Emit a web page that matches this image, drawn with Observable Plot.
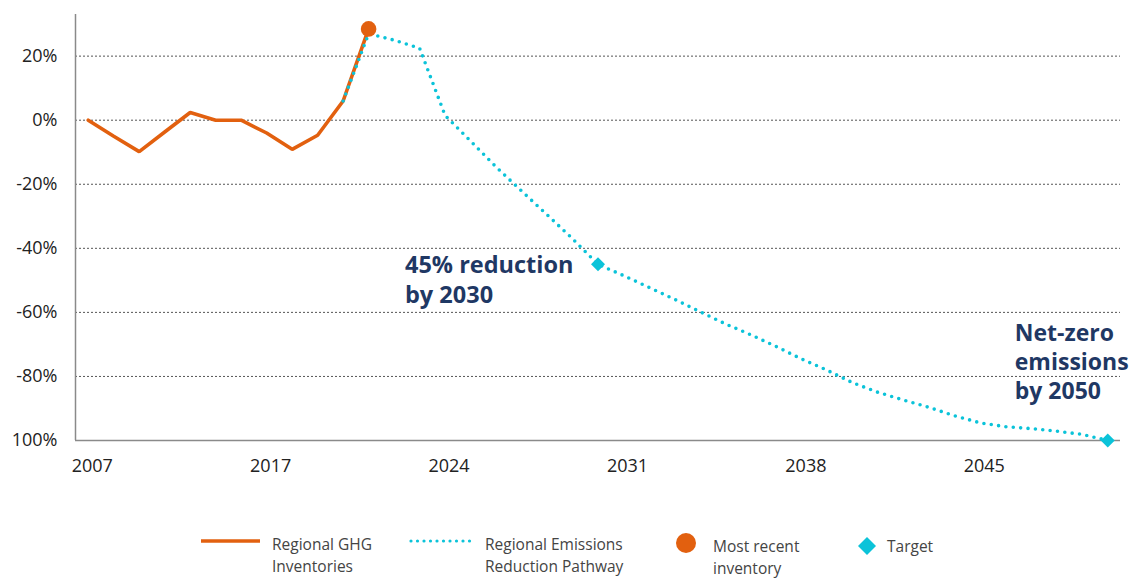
<!DOCTYPE html>
<html>
<head>
<meta charset="utf-8">
<script src="https://cdn.jsdelivr.net/npm/d3@7"></script>
<script src="https://cdn.jsdelivr.net/npm/@observablehq/plot@0.6"></script>
<style>
  html, body { margin: 0; padding: 0; background: #fff; }
  #wrap { position: relative; width: 1133px; height: 578px; overflow: hidden; font-family: "Open Sans", sans-serif; }
  #legend { position: absolute; left: 0; top: 510px; width: 1133px; height: 68px; }
  .item { position: absolute; font-size: 15.5px; line-height: 22px; color: #444; }
  .sw { position: absolute; }
</style>
</head>
<body>
<div id="wrap">
  <div id="chart"></div>
  <div id="legend"></div>
</div>
<script>
// ---- data ----
// category slots along the x axis (one slot per plotted period)
const xTickSlots  = [0, 7, 14, 21, 28, 35];
const xTickLabels = ["2007", "2017", "2024", "2031", "2038", "2045"];
const yTickValues = [-100, -80, -60, -40, -20, 0, 20];
const yTickLabels = ["100%", "-80%", "-60%", "-40%", "-20%", "0%", "20%"];
const gridValues  = [-80, -60, -40, -20, 0, 20];

const inventorySlots  = [0, 1, 2, 3, 4, 5, 6, 7, 8, 9, 10, 11];
const inventoryValues = [0, -5, -9.8, -3.7, 2.4, 0, 0, -4, -9.1, -4.7, 6, 28.5];

const pathwaySlots  = [10, 11, 12, 13, 14, 15, 16, 17, 18, 19, 20, 21, 22, 23, 24, 25, 26, 27, 28, 29, 30, 31, 32, 33, 34, 35, 36, 37, 38, 39, 40];
const pathwayValues = [6, 27, 25, 22.5, 1.5, -6.5, -14.6, -22.1, -29.5, -37, -45, -48.5, -52.2, -55.9, -59.8, -63.6, -67, -70.7, -74.6, -78.1, -82, -85, -87.4, -89.7, -92.3, -94.5, -95.7, -96.3, -97.1, -98.1, -100];

const recentSlot  = [11];
const recentValue = [28.5];

const targetSlots  = [20, 40];
const targetValues = [-45, -100];
const targetNotes  = [["45% reduction", "by 2030"], ["Net-zero", "emissions", "by 2050"]];

const legendLabels = ["Regional GHG\nInventories", "Regional Emissions\nReduction Pathway", "Most recent\ninventory", "Target"];

// ---- styles ----
const ORANGE = "#E2600F";
const CYAN = "#0BC3D9";
const NAVY = "#1F3864";

const inventory = inventorySlots.map((s, i) => ({s, v: inventoryValues[i]}));
const pathway = pathwaySlots.map((s, i) => ({s, v: pathwayValues[i]}));
const recent = recentSlot.map((s, i) => ({s, v: recentValue[i]}));
const targets = targetSlots.map((s, i) => ({s, v: targetValues[i]}));

// annotation text marks: one mark per line, anchored on its target
const noteStyle = [
  {dx: -193, dy0: 1, step: 30, fontSize: 23.5},
  {dx: -93, dy0: -107, step: 29, fontSize: 23}
];
const noteMarks = [];
targetNotes.forEach((lines, k) => {
  const st = noteStyle[k];
  lines.forEach((line, j) => {
    noteMarks.push(Plot.text([{s: targetSlots[k], v: targetValues[k], line}], {
      x: "s", y: "v", text: "line", textAnchor: "start", lineAnchor: "middle",
      dx: st.dx, dy: st.dy0 + j * st.step, fontSize: st.fontSize, fontWeight: "bold", fill: NAVY
    }));
  });
});

const chart = Plot.plot({
  width: 1133,
  height: 510,
  marginLeft: 75,
  marginRight: 13,
  marginTop: 14,
  marginBottom: 70,
  style: {fontFamily: "Open Sans, sans-serif", background: "#fff", overflow: "visible"},
  x: {type: "linear", domain: [-0.5, 40.5], axis: null},
  y: {domain: [-100, 33], axis: null},
  marks: [
    Plot.ruleY(gridValues, {stroke: "#555", strokeWidth: 1, strokeDasharray: "2,2"}),
    Plot.ruleY([-100], {stroke: "#8a8a8a", strokeWidth: 1.5}),
    Plot.ruleX([-0.5], {y1: -100, y2: 33, stroke: "#8a8a8a", strokeWidth: 1.5}),
    Plot.axisY(yTickValues, {
      label: null, tickSize: 0, tickPadding: 18, fontSize: 18, fill: "#222",
      tickFormat: d => yTickLabels[yTickValues.indexOf(d)]
    }),
    Plot.axisX(xTickSlots, {
      label: null, tickSize: 0, tickPadding: 19, fontSize: 18, fill: "#222", dx: 4,
      tickFormat: d => xTickLabels[xTickSlots.indexOf(d)]
    }),
    Plot.line(inventory, {x: "s", y: "v", stroke: ORANGE, strokeWidth: 3.6, strokeLinejoin: "miter"}),
    Plot.line(pathway, {x: "s", y: "v", stroke: CYAN, strokeWidth: 3.6, strokeDasharray: "0 7.4", strokeLinecap: "round"}),
    Plot.dot(recent, {x: "s", y: "v", r: 7.8, fill: ORANGE, stroke: "none"}),
    Plot.dot(targets, {x: "s", y: "v", r: 6.3, symbol: "diamond2", fill: CYAN, stroke: "none"}),
    ...noteMarks
  ]
});
document.getElementById("chart").appendChild(chart);

// ---- legend ----
const legend = document.getElementById("legend");
const ns = "http://www.w3.org/2000/svg";
function swatch(left, top, w, h, build) {
  const s = document.createElementNS(ns, "svg");
  s.setAttribute("width", w); s.setAttribute("height", h);
  s.setAttribute("class", "sw");
  s.style.left = left + "px"; s.style.top = top + "px";
  build(s);
  legend.appendChild(s);
}
function el(parent, tag, attrs) {
  const e = document.createElementNS(ns, tag);
  for (const k in attrs) e.setAttribute(k, attrs[k]);
  parent.appendChild(e);
}
swatch(200, 25, 62, 12, s => el(s, "line", {x1: 1, x2: 60, y1: 6, y2: 6, stroke: ORANGE, "stroke-width": 3.5}));
swatch(408, 25, 64, 12, s => el(s, "line", {x1: 3, x2: 62, y1: 6, y2: 6, stroke: CYAN, "stroke-width": 3.2, "stroke-dasharray": "0 6.5", "stroke-linecap": "round"}));
swatch(674, 21, 24, 24, s => el(s, "circle", {cx: 12, cy: 12, r: 10, fill: ORANGE}));
swatch(857, 26, 20, 20, s => el(s, "path", {d: "M10,1L19,10L10,19L1,10Z", fill: CYAN}));

const pos = [[272, 23], [485, 23], [713, 25], [887, 25]];
legendLabels.forEach((t, i) => {
  const d = document.createElement("div");
  d.className = "item";
  d.style.left = pos[i][0] + "px";
  d.style.top = pos[i][1] + "px";
  d.innerHTML = t.split("\n").join("<br>");
  legend.appendChild(d);
});
</script>
</body>
</html>
